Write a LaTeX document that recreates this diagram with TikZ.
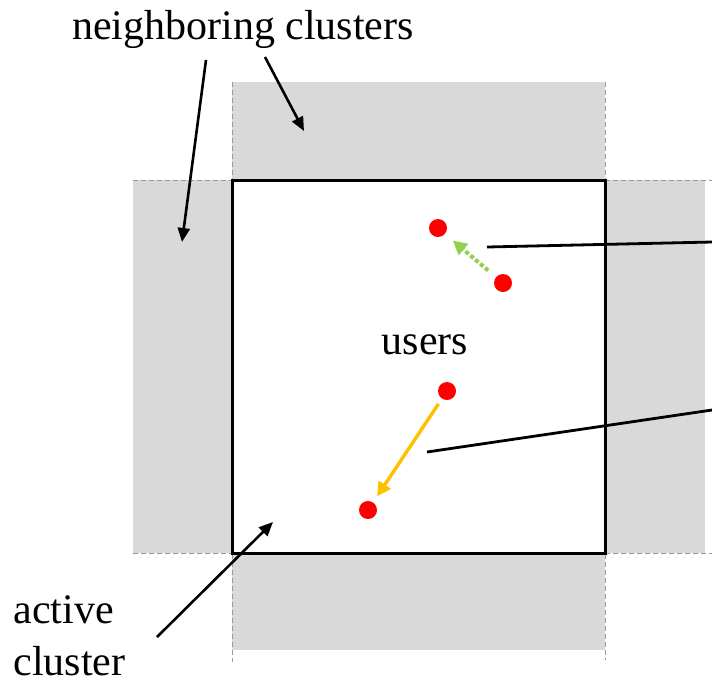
\documentclass[tikz,border=0pt]{standalone}
\usepackage{fontspec}
\setmainfont{Liberation Serif}
\usetikzlibrary{arrows.meta}
\definecolor{clustergray}{HTML}{D9D9D9}
\definecolor{edgegray}{HTML}{999999}
\definecolor{movegreen}{HTML}{92D050}
\definecolor{moveyellow}{HTML}{FFC000}
\tikzset{
	user/.style={circle,fill=red,minimum size=9pt,inner sep=0pt},
	txt/.style={inner sep=0pt,font=\fontsize{21}{26}\selectfont},
	pointer/.style={line width=1.3pt,-{Triangle[length=7pt,width=6pt]}},
	edge/.style={edgegray,line width=0.5pt,dash pattern=on 2.5pt off 1.5pt},
	move/.style={line width=1.7pt,-{Triangle[length=7pt,width=7pt]}}
}
\begin{document}
\begin{tikzpicture}[x=0.5pt,y=-0.5pt]
	\useasboundingbox (0,0) rectangle (712,682);
	
	%neighboring clusters
	\fill[clustergray] (232,82) rectangle (605,180);
	\fill[clustergray] (133,180) rectangle (232,553);
	\fill[clustergray] (605,180) rectangle (705,553);
	\fill[clustergray] (232,553) rectangle (605,650);
	\draw[edge] (232,82)--(232,662);
	\draw[edge] (605,82)--(605,660);
	\draw[edge] (133,180)--(712,180);
	\draw[edge] (133,553)--(712,553);
	
	%active cluster
	\draw[line width=1.5pt] (232,180) rectangle (605,553);
	
	%users
	\node[user] (u1) at (438,228) {};
	\node[user] (u2) at (503,283) {};
	\node[user] (u3) at (447,391) {};
	\node[user] (u4) at (368,510) {};
	\draw[move,movegreen,line width=2pt,dash pattern=on 2pt off 1.2pt,shorten <=5pt,shorten >=5pt] (u2)--(u1);
	\draw[move,moveyellow,shorten <=3pt,shorten >=3.5pt] (u3)--(u4);
	
	%leader lines
	\coordinate (g1) at (487,247);
	\coordinate (g2) at (712,242);
	\coordinate (y1) at (427,452);
	\coordinate (y2) at (712,410);
	\draw[line width=1.4pt] (g1)--(g2);
	\draw[line width=1.4pt] (y1)--(y2);
	
	%labels
	\node[txt] (neigh) at (243,29) {neighboring clusters};
	\node[txt] (users) at (425,345) {users};
	\node[txt,align=left,anchor=west] (active) at (13,636) {active\\cluster};
	
	%pointers
	\coordinate (n1) at (206,60);
	\coordinate (n2) at (265,57);
	\coordinate (a1) at (157,637);
	\coordinate (left) at (182,242);
	\coordinate (top) at (304,131);
	\coordinate (inner) at (273,522);
	\draw[pointer] (n1)--(left);
	\draw[pointer] (n2)--(top);
	\draw[pointer] (a1)--(inner);
	
	%\draw[help lines] (0,0) grid (712,682);
\end{tikzpicture}
\end{document}
